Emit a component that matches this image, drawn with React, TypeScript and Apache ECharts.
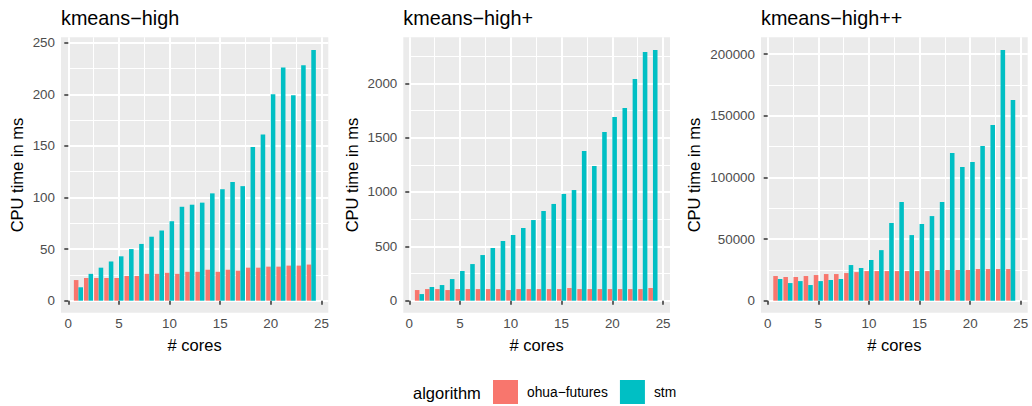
import React, { useEffect, useRef } from "react";
import * as echarts from "echarts";

const CORES = [1, 2, 3, 4, 5, 6, 7, 8, 9, 10, 11, 12, 13, 14, 15, 16, 17, 18, 19, 20, 21, 22, 23, 24];

const PANEL_TITLES = ["kmeans\u2212high", "kmeans\u2212high+", "kmeans\u2212high++"];
const ALGORITHMS = ["ohua\u2212futures", "stm"];
const COLORS = ["#F8766D", "#00BFC4"];

const HIGH_OHUA = [20, 22, 22, 22, 22, 24, 24, 26, 26, 27, 26, 28, 28, 30, 28, 30, 29, 32, 32, 33, 33, 34, 34, 35];
const HIGH_STM = [13, 26, 32, 38, 43, 50, 55, 62, 68, 77, 91, 93, 95, 104, 108, 115, 111, 149, 161, 200, 226, 199, 228, 243];

const HIGHP_OHUA = [98, 107, 107, 98, 107, 107, 107, 107, 107, 98, 107, 107, 107, 107, 107, 117, 107, 107, 107, 107, 107, 107, 107, 117];
const HIGHP_STM = [61, 126, 144, 199, 273, 337, 420, 485, 549, 604, 669, 742, 825, 890, 982, 1018, 1377, 1239, 1552, 1690, 1773, 2040, 2288, 2307];

const HIGHPP_OHUA = [20000, 19200, 19200, 20000, 20800, 21600, 21600, 22400, 23200, 24000, 24000, 24000, 24000, 24000, 24000, 24000, 24900, 24900, 24900, 24900, 25700, 25700, 25700, 25700];
const HIGHPP_STM = [17600, 14300, 15900, 12700, 15900, 16800, 17600, 28900, 26500, 33000, 41000, 63000, 80000, 53200, 62200, 68600, 80000, 119700, 108400, 112400, 125400, 142400, 203200, 162700];

const X_TICKS = [0, 5, 10, 15, 20, 25];
const Y_TICKS_HIGH = [0, 50, 100, 150, 200, 250];
const Y_TICKS_HIGHP = [0, 500, 1000, 1500, 2000];
const Y_TICKS_HIGHPP = [0, 50000, 100000, 150000, 200000];

const SERIES_DATA = [
  [HIGH_OHUA, HIGH_STM],
  [HIGHP_OHUA, HIGHP_STM],
  [HIGHPP_OHUA, HIGHPP_STM],
];
const Y_TICKS = [Y_TICKS_HIGH, Y_TICKS_HIGHP, Y_TICKS_HIGHPP];
const Y_MAX = [255.2, 2423, 213540];
const X_MAX = 25.68;

// layout (pixels)
const PANELS = [
  { left: 61, right: 328.3, x0: 68.3 },
  { left: 403.3, right: 670, x0: 409.3 },
  { left: 761, right: 1027.7, x0: 767.7 },
];
const PANEL_TOP = 37.3;
const PANEL_BOTTOM = 312.7;
const Y0 = 300.7;

const FONT = "'Liberation Sans', Arial, Helvetica, sans-serif";

export default function App() {
  const ref = useRef<HTMLDivElement>(null);

  useEffect(() => {
    if (!ref.current) return;
    const chart = echarts.init(ref.current, undefined, { renderer: "svg" });

    const grids: any[] = [];
    const xAxes: any[] = [];
    const yAxes: any[] = [];
    const series: any[] = [];
    const graphics: any[] = [];

    PANELS.forEach((p, i) => {
      grids.push({
        left: p.x0,
        top: PANEL_TOP,
        width: p.right - p.x0,
        height: Y0 - PANEL_TOP,
        containLabel: false,
      });
      xAxes.push({
        type: "value",
        gridIndex: i,
        min: 0,
        max: X_MAX,
        interval: 5,
        position: "bottom",
        offset: PANEL_BOTTOM - Y0,
        axisLine: { show: false },
        axisTick: { show: true, length: 4, lineStyle: { color: "#333333", width: 1.5 }, customValues: X_TICKS },
        axisLabel: {
          show: true,
          customValues: X_TICKS,
          margin: 4,
          color: "#4D4D4D",
          fontSize: 13.4,
          fontFamily: FONT,
          formatter: (v: number) => String(v),
        },
        splitLine: { show: true, lineStyle: { color: "#FFFFFF", width: 2 } },
        minorTick: { show: false, splitNumber: 2 },
        minorSplitLine: { show: true, lineStyle: { color: "#FFFFFF", width: 1 } },
      });
      yAxes.push({
        type: "value",
        gridIndex: i,
        min: 0,
        max: Y_MAX[i],
        interval: Y_TICKS[i][1],
        position: "left",
        offset: p.x0 - p.left,
        axisLine: { show: false },
        axisTick: { show: true, length: 4, lineStyle: { color: "#333333", width: 1.5 }, customValues: Y_TICKS[i] },
        axisLabel: {
          show: true,
          customValues: Y_TICKS[i],
          margin: 6,
          color: "#4D4D4D",
          fontSize: 13.4,
          fontFamily: FONT,
          formatter: (v: number) => String(v),
        },
        splitLine: { show: true, lineStyle: { color: "#FFFFFF", width: 2 } },
        minorTick: { show: false, splitNumber: 2 },
        minorSplitLine: { show: true, lineStyle: { color: "#FFFFFF", width: 1 } },
      });

      ALGORITHMS.forEach((name, k) => {
        const vals = SERIES_DATA[i][k];
        const off = k === 0 ? -0.225 : 0.225;
        series.push({
          type: "custom",
          name,
          xAxisIndex: i,
          yAxisIndex: i,
          itemStyle: { color: COLORS[k] },
          encode: { x: 0, y: 1 },
          data: CORES.map((c, j) => [c, vals[j]]),
          renderItem: (_params: any, api: any) => {
            const x = api.value(0);
            const y = api.value(1);
            const p0 = api.coord([x + off - 0.225, y]);
            const p1 = api.coord([x + off + 0.225, 0]);
            return {
              type: "rect",
              shape: { x: p0[0], y: p0[1], width: p1[0] - p0[0], height: p1[1] - p0[1] },
              style: { fill: api.visual("color") },
            };
          },
        });
      });

      graphics.push({
        type: "rect",
        z: -10,
        shape: { x: p.left, y: PANEL_TOP, width: p.right - p.left, height: PANEL_BOTTOM - PANEL_TOP },
        style: { fill: "#EBEBEB" },
        silent: true,
      });
      graphics.push({
        type: "text",
        x: p.left,
        y: 18,
        style: {
          text: PANEL_TITLES[i],
          fill: "#000000",
          fontSize: 19.8,
          fontFamily: FONT,
          align: "left",
          verticalAlign: "middle",
        },
      });
      graphics.push({
        type: "text",
        x: (p.left + p.right) / 2,
        y: 345,
        style: {
          text: "# cores",
          fill: "#000000",
          fontSize: 16.5,
          fontFamily: FONT,
          align: "center",
          verticalAlign: "middle",
        },
      });
      const yTitleX = [16.5, 351.5, 694][i];
      graphics.push({
        type: "text",
        x: yTitleX,
        y: (PANEL_TOP + PANEL_BOTTOM) / 2,
        rotation: Math.PI / 2,
        style: {
          text: "CPU time in ms",
          fill: "#000000",
          fontSize: 16.5,
          fontFamily: FONT,
          align: "center",
          verticalAlign: "middle",
        },
      });
    });

    graphics.push({
      type: "text",
      x: 413,
      y: 393,
      style: {
        text: "algorithm",
        fill: "#000000",
        fontSize: 16.5,
        fontFamily: FONT,
        align: "left",
        verticalAlign: "middle",
      },
    });

    chart.setOption({
      animation: false,
      backgroundColor: "#FFFFFF",
      grid: grids,
      xAxis: xAxes,
      yAxis: yAxes,
      series,
      graphic: { elements: graphics },
      legend: {
        show: true,
        data: ALGORITHMS,
        left: 493,
        top: 380,
        padding: 0,
        orient: "horizontal",
        icon: "rect",
        itemWidth: 25,
        itemHeight: 24,
        itemGap: 12,
        selectedMode: false,
        textStyle: { fontSize: 13.8, color: "#000000", fontFamily: FONT, padding: [0, 0, 0, 4] },
      },
      tooltip: { show: false },
    });

    return () => chart.dispose();
  }, []);

  return (
    <div
      ref={ref}
      style={{ position: "absolute", left: 0, top: 0, width: 1032, height: 406 }}
    />
  );
}
